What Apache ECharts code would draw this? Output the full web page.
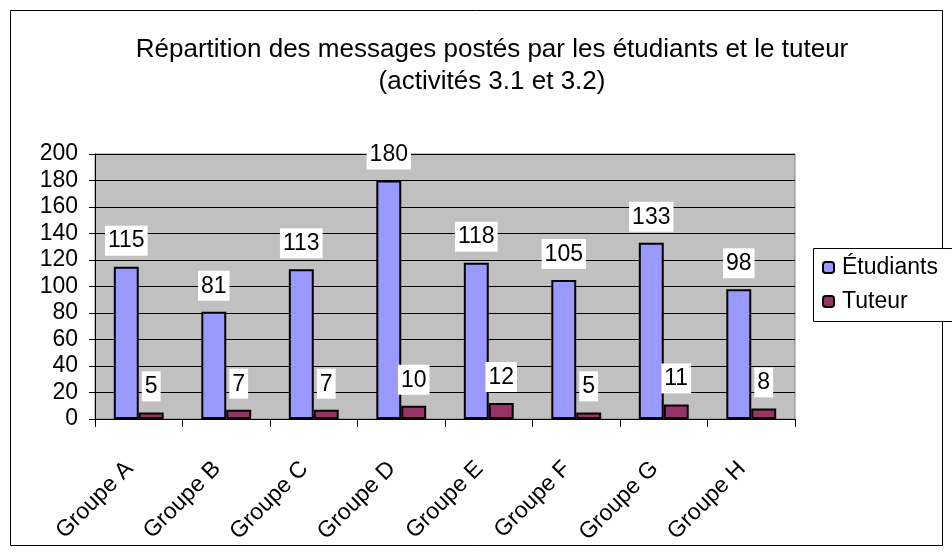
<!DOCTYPE html>
<html>
<head>
<meta charset="utf-8">
<script src="https://cdn.jsdelivr.net/npm/echarts@6/dist/echarts.min.js"></script>
<style>
  html, body { margin: 0; padding: 0; background: #fff; }
  #chart { width: 952px; height: 557px; }
</style>
</head>
<body>
<div id="chart"></div>
<script>
// données
var groupes = ['Groupe A', 'Groupe B', 'Groupe C', 'Groupe D', 'Groupe E', 'Groupe F', 'Groupe G', 'Groupe H'];
var etudiants = [115, 81, 113, 180, 118, 105, 133, 98];
var tuteur = [5, 7, 7, 10, 12, 5, 11, 8];
var yTicks = [0, 20, 40, 60, 80, 100, 120, 140, 160, 180, 200];

var font = 'Liberation Sans, Arial, sans-serif';

var labelStyle = {
    show: true,
    position: 'top',
    distance: 11,
    color: '#000',
    fontSize: 23,
    fontFamily: font,
    backgroundColor: '#fff',
    padding: [4, 3, 3, 3]
};

var chart = echarts.init(document.getElementById('chart'));

chart.setOption({
    animation: false,
    backgroundColor: '#fff',
    title: {
        text: 'Répartition des messages postés par les étudiants et le tuteur\n(activités 3.1 et 3.2)',
        left: 487,
        top: 29,
        textAlign: 'center',
        textStyle: {
            fontSize: 26,
            fontWeight: 'normal',
            color: '#000',
            fontFamily: font,
            lineHeight: 32
        }
    },
    graphic: [{
        type: 'rect',
        z: 0,
        shape: { x: 10.5, y: 10.5, width: 932, height: 535 },
        style: { fill: 'none', stroke: '#000', lineWidth: 1 },
        silent: true
    }, {
        // cadre de la légende, qui déborde à droite comme dans l'original
        type: 'rect',
        z: 3,
        shape: { x: 813.5, y: 248.5, width: 200, height: 73 },
        style: { fill: '#fff', stroke: '#000', lineWidth: 1 },
        silent: true
    }],
    legend: {
        orient: 'vertical',
        z: 5,
        left: 813,
        top: 248,
        itemWidth: 11,
        itemHeight: 11,
        itemGap: 11,
        padding: [8, 10, 8, 9],
        textStyle: { fontSize: 23, color: '#000', fontFamily: font, padding: [0, 0, 0, 3] },
        data: ['Étudiants', 'Tuteur']
    },
    grid: {
        left: 95,
        right: 157,
        top: 154,
        bottom: 138,
        show: true,
        backgroundColor: '#c0c0c0',
        borderColor: '#808080',
        borderWidth: 1
    },
    xAxis: {
        type: 'category',
        data: groupes,
        axisLine: { lineStyle: { color: '#000', width: 1 } },
        axisTick: { show: true, alignWithLabel: false, length: 8, lineStyle: { color: '#000' } },
        axisLabel: {
            rotate: 45,
            interval: 0,
            fontSize: 23,
            color: '#000',
            fontFamily: font,
            margin: 37,
            padding: [0, 13, 0, 0]
        }
    },
    yAxis: {
        type: 'value',
        min: yTicks[0],
        max: yTicks[yTicks.length - 1],
        interval: 20,
        axisLine: { show: true, lineStyle: { color: '#000', width: 1 } },
        axisTick: { show: true, length: 6, lineStyle: { color: '#000' } },
        splitLine: { lineStyle: { color: '#000', width: 1 } },
        axisLabel: { fontSize: 23, color: '#000', fontFamily: font, margin: 17 }
    },
    series: [{
        name: 'Étudiants',
        type: 'bar',
        data: etudiants,
        barGap: '0%',
        barCategoryGap: '43%',
        itemStyle: { color: '#9999ff', borderColor: '#000', borderWidth: 2 },
        label: labelStyle
    }, {
        name: 'Tuteur',
        type: 'bar',
        data: tuteur,
        itemStyle: { color: '#993366', borderColor: '#000', borderWidth: 2 },
        label: labelStyle
    }]
});
</script>
</body>
</html>
